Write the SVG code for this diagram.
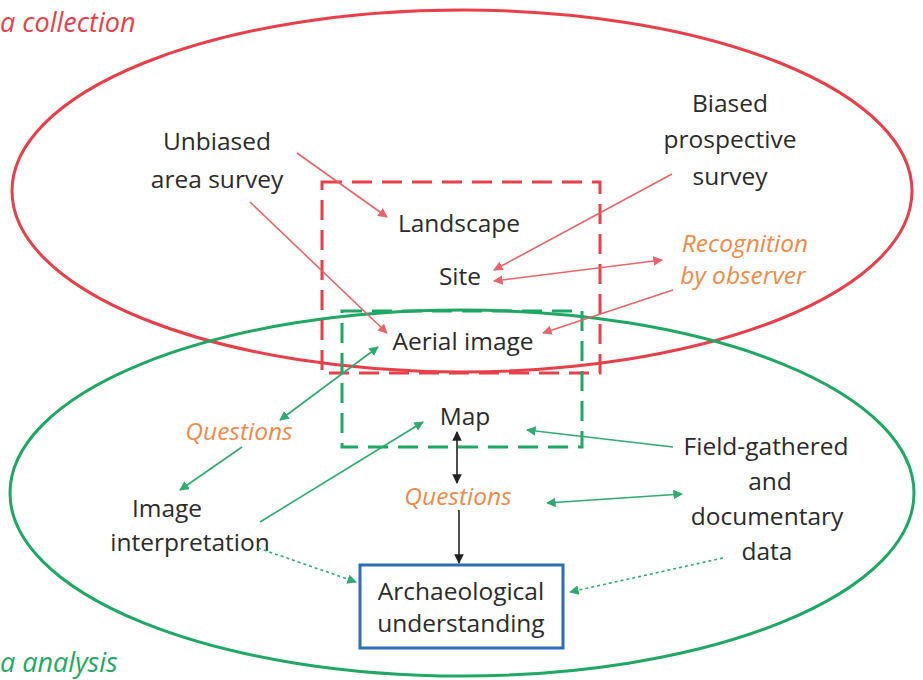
<svg xmlns="http://www.w3.org/2000/svg" width="923" height="680" viewBox="0 0 923 680">
<style>
text{font-family:"Open Sans","Liberation Sans",sans-serif;font-size:24.5px;fill:#2b2b2b;text-anchor:middle}
.it{font-style:italic;fill:#F08A4B}
.title{font-style:italic;font-size:27px;text-anchor:start}
.r{stroke:#E8646A;stroke-width:1.6;fill:none}
.g{stroke:#2FAA72;stroke-width:1.6;fill:none}
.gd{stroke:#2FAA72;stroke-width:1.6;fill:none;stroke-dasharray:3 3}
.k{stroke:#222;stroke-width:1.6;fill:none}
</style>
<defs>
<marker id="mr" viewBox="0 0 10 10" refX="9" refY="5" markerWidth="6" markerHeight="6" orient="auto-start-reverse"><path d="M0,0L10,5L0,10z" fill="#E8646A"/></marker>
<marker id="mg" viewBox="0 0 10 10" refX="9" refY="5" markerWidth="6" markerHeight="6" orient="auto-start-reverse"><path d="M0,0L10,5L0,10z" fill="#2FAA72"/></marker>
<marker id="mk" viewBox="0 0 10 10" refX="9" refY="5" markerWidth="6" markerHeight="6" orient="auto-start-reverse"><path d="M0,0L10,5L0,10z" fill="#222"/></marker>
</defs>
<rect width="923" height="680" fill="#fff"/>
<g id="collection">
<ellipse cx="462" cy="191" rx="450" ry="181" fill="none" stroke="#E8404A" stroke-width="3"/>
<text class="title" x="0" y="32" style="fill:#E8404A">a collection</text>
</g>
<g id="analysis">
<ellipse cx="462" cy="493" rx="452" ry="183" fill="none" stroke="#1FA865" stroke-width="3"/>
<text class="title" x="0" y="672" style="fill:#1FA865">a analysis</text>
</g>
<g id="red-box"><rect x="322" y="182" width="278" height="191" fill="none" stroke="#E8404A" stroke-width="3" stroke-dasharray="20 10"/></g>
<g id="green-box"><rect x="342" y="311" width="240" height="136" fill="none" stroke="#1FA865" stroke-width="3" stroke-dasharray="20 10"/></g>
<g id="unbiased"><text x="217" y="150">Unbiased</text><text x="217" y="188">area survey</text></g>
<g id="biased"><text x="730" y="112">Biased</text><text x="730" y="148">prospective</text><text x="730" y="185">survey</text></g>
<g id="landscape"><text x="459" y="232">Landscape</text></g>
<g id="site"><text x="460" y="285">Site</text></g>
<g id="recognition"><text class="it" x="745" y="252">Recognition</text><text class="it" x="743" y="284">by observer</text></g>
<g id="aerial"><text x="463" y="350">Aerial image</text></g>
<g id="map"><text x="465" y="425">Map</text></g>
<g id="questions-left"><text class="it" x="239" y="440">Questions</text></g>
<g id="questions-center"><text class="it" x="458" y="505">Questions</text></g>
<g id="image-interp"><text x="167" y="517">Image</text><text x="190" y="551">interpretation</text></g>
<g id="field"><text x="766" y="455">Field-gathered</text><text x="770" y="490">and</text><text x="767" y="525">documentary</text><text x="767" y="560">data</text></g>
<g id="understanding"><rect x="360" y="565" width="203" height="83" fill="#fff" stroke="#2E6EB5" stroke-width="3"/><text x="461" y="600">Archaeological</text><text x="461" y="632">understanding</text></g>
<g id="connectors">
<line class="r" x1="297" y1="153" x2="387" y2="217" marker-end="url(#mr)"/>
<line class="r" x1="250" y1="202" x2="387" y2="333" marker-end="url(#mr)"/>
<line class="r" x1="672" y1="174" x2="494" y2="270" marker-end="url(#mr)"/>
<line class="r" x1="494" y1="281" x2="662" y2="260" marker-start="url(#mr)" marker-end="url(#mr)"/>
<line class="r" x1="673" y1="290" x2="543" y2="333" marker-end="url(#mr)"/>
<line class="g" x1="378" y1="347" x2="280" y2="420" marker-start="url(#mg)" marker-end="url(#mg)"/>
<line class="g" x1="242" y1="447" x2="180" y2="490" marker-end="url(#mg)"/>
<line class="g" x1="260" y1="522" x2="423" y2="422" marker-end="url(#mg)"/>
<line class="g" x1="673" y1="447" x2="527" y2="430" marker-end="url(#mg)"/>
<line class="g" x1="547" y1="503" x2="682" y2="494" marker-start="url(#mg)" marker-end="url(#mg)"/>
<line class="gd" x1="258" y1="548" x2="356" y2="582" marker-end="url(#mg)"/>
<line class="gd" x1="723" y1="558" x2="570" y2="592" marker-end="url(#mg)"/>
<line class="k" x1="457" y1="432" x2="457" y2="483" marker-start="url(#mk)" marker-end="url(#mk)"/>
<line class="k" x1="459" y1="510" x2="459" y2="563" marker-end="url(#mk)"/>
</g>
</svg>
